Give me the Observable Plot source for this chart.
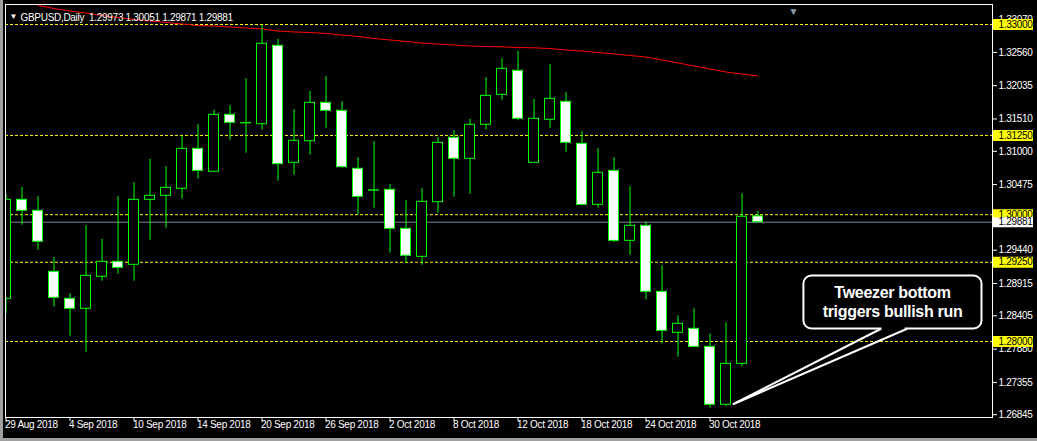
<!DOCTYPE html>
<html><head><meta charset="utf-8">
<script src="https://cdn.jsdelivr.net/npm/d3@7"></script>
<script src="https://cdn.jsdelivr.net/npm/@observablehq/plot@0.6"></script>
<style>
html,body{margin:0;padding:0;background:#000;}
#wrap{position:relative;width:1037px;height:441px;overflow:hidden;background:#000;}
#wrap svg{display:block;}
.edge-l{position:absolute;left:0;top:0;width:3px;height:441px;background:#a0a0a0;}
.edge-b{position:absolute;left:0;bottom:0;width:1037px;height:3px;background:#a0a0a0;}
</style></head>
<body><div id="wrap"><div class="edge-l"></div><div class="edge-b"></div></div>
<script>
// ---------------- data ----------------
const symbol = "GBPUSD", period = "Daily";
const dates = ["2018-08-29","2018-08-30","2018-08-31","2018-09-03","2018-09-04","2018-09-05","2018-09-06","2018-09-07",
  "2018-09-10","2018-09-11","2018-09-12","2018-09-13","2018-09-14","2018-09-17","2018-09-18","2018-09-19","2018-09-20","2018-09-21",
  "2018-09-24","2018-09-25","2018-09-26","2018-09-27","2018-09-28","2018-10-01","2018-10-02","2018-10-03","2018-10-04","2018-10-05",
  "2018-10-08","2018-10-09","2018-10-10","2018-10-11","2018-10-12","2018-10-15","2018-10-16","2018-10-17","2018-10-18","2018-10-19",
  "2018-10-22","2018-10-23","2018-10-24","2018-10-25","2018-10-26","2018-10-29","2018-10-30","2018-10-31","2018-11-01","2018-11-02"];
const open = [1.28674,1.30235,1.30062,1.29099,1.28674,1.28516,1.29021,1.29257,1.29210,1.30235,1.30298,1.30409,1.31039,1.30677,1.31576,1.31445,
  1.31427,1.32664,1.30819,1.31159,1.31765,1.31639,1.30724,1.30384,1.30393,1.29778,1.29336,1.30197,1.31213,1.30882,1.31418,1.31891,
  1.32270,1.30819,1.31497,1.31781,1.31118,1.30156,1.30692,1.29588,1.29825,1.28784,1.28137,1.28200,1.27916,1.27002,1.27648,1.29973];
const high = [1.30319,1.30429,1.30287,1.29325,1.28757,1.29830,1.29609,1.30287,1.30508,1.30871,1.30760,1.31238,1.31423,1.31648,1.31722,1.32144,
  1.32984,1.32763,1.31659,1.31943,1.32180,1.31785,1.30902,1.31155,1.30476,1.30224,1.30413,1.31218,1.31328,1.31502,1.32164,1.32464,
  1.32574,1.31817,1.32369,1.31927,1.31312,1.31044,1.30902,1.30445,1.29888,1.29194,1.28405,1.28516,1.28121,1.28295,1.30330,1.30051];
const low = [1.28437,1.29834,1.29440,1.28541,1.28084,1.27831,1.28951,1.29062,1.28951,1.29598,1.29787,1.30245,1.30560,1.30677,1.31175,1.30970,
  1.31333,1.30528,1.30623,1.30938,1.31364,1.30733,1.29998,1.30103,1.29393,1.29235,1.29203,1.30024,1.30276,1.30323,1.31333,1.31806,
  1.31481,1.30819,1.31364,1.30986,1.30140,1.30109,1.29557,1.29361,1.28658,1.27964,1.27752,1.27901,1.26954,1.26970,1.27601,1.29871];
const close = [1.30235,1.30062,1.29573,1.28689,1.28516,1.29036,1.29257,1.29162,1.30235,1.30298,1.30424,1.31039,1.30692,1.31576,1.31450,1.31441,
  1.32696,1.30797,1.31166,1.31765,1.31639,1.30749,1.30282,1.30380,1.29778,1.29352,1.30203,1.31134,1.30882,1.31418,1.31875,1.32301,
  1.31513,1.31513,1.31828,1.31134,1.30156,1.30661,1.29588,1.29825,1.28784,1.28169,1.28279,1.27916,1.27002,1.27648,1.29967,1.29881];
const ma = [null,null,1.33300,1.33252,1.33213,1.33181,1.33142,1.33110,1.33079,1.33055,1.33032,1.33008,1.32984,1.32976,1.32961,1.32945,
  1.32929,1.32897,1.32882,1.32874,1.32858,1.32834,1.32811,1.32779,1.32756,1.32732,1.32708,1.32692,1.32677,1.32661,1.32653,1.32648,
  1.32637,1.32632,1.32621,1.32598,1.32582,1.32558,1.32535,1.32511,1.32487,1.32440,1.32393,1.32345,1.32298,1.32251,1.32219,1.32188];
const levels = [1.33000,1.31250,1.30000,1.29250,1.28000];
const priceTicks = [1.33070,1.32560,1.32035,1.31510,1.31000,1.30475,1.29440,1.28915,1.28405,1.27880,1.27355,1.26845];
const dateTickIdx = [0,4,8,12,16,20,24,28,32,36,40,44];
const dateTickLabels = ["29 Aug 2018","4 Sep 2018","10 Sep 2018","14 Sep 2018","20 Sep 2018","26 Sep 2018",
  "2 Oct 2018","8 Oct 2018","12 Oct 2018","18 Oct 2018","24 Oct 2018","30 Oct 2018"];
// annotation, in bar-index / price units
const calloutText = "Tweezer bottom\ntriggers bullish run";
const calloutBox = {x1: 49.87, x2: 61.0, y1: 1.28197, y2: 1.29033, tx: 55.41, ty: 1.28634};
const calloutWedge = [{x: 54.66, y: 1.28197}, {x: 45.47, y: 1.27014}, {x: 56.28, y: 1.28197}];

// ---------------- layout ----------------
const W = 1037, H = 441, mL = 5, mR = 45, mT = 4, mB = 24;
const barPx = 16, firstBarPx = 5.5;           // bar spacing in px, first bar centre
const pxPerUnit = 6340, refPrice = 1.33, refPx = 24;
const xDomain = [(mL - firstBarPx) / barPx, (W - mR - firstBarPx) / barPx];
const yDomain = [refPrice - (H - mB - refPx) / pxPerUnit, refPrice + (refPx - mT) / pxPerUnit];
const pxToIdx = px => (px - firstBarPx) / barPx;
const labX1 = pxToIdx(993), labX2 = pxToIdx(1033);
const half = 5 / barPx;

const fmt = d3.format(".5f");
const candles = dates.map((d, i) => ({i, date: d, open: open[i], high: high[i], low: low[i], close: close[i]}));
const bulls = candles.filter(d => d.close >= d.open);
const bears = candles.filter(d => d.close < d.open);
const maData = ma.map((v, i) => ({i, v})).filter(d => d.v != null);
const last = candles[candles.length - 1];
const title = `${symbol},${period}\u00a0\u00a0${fmt(last.open)} ${fmt(last.high)} ${fmt(last.low)} ${fmt(last.close)}`;
const green = "#00ff00";
const font = "'Liberation Sans', Arial, sans-serif";

const chart = Plot.plot({
  width: W, height: H,
  marginLeft: mL, marginRight: mR, marginTop: mT, marginBottom: mB,
  style: {background: "black", color: "white", fontFamily: font, fontSize: "10px", letterSpacing: "-0.3px", overflow: "visible"},
  x: {domain: xDomain, ticks: dateTickIdx, tickFormat: () => "", tickSize: 4, label: null},
  y: {domain: yDomain, axis: "right", ticks: priceTicks, tickFormat: fmt, tickSize: 4, tickPadding: 2, label: null},
  marks: [
    Plot.ruleY(levels, {y: d => d, stroke: "#ffff00", strokeDasharray: "3,2"}),
    Plot.ruleY([last.close], {y: d => d, stroke: "#778899"}),
    Plot.line(maData, {x: "i", y: "v", stroke: "#ff0000", strokeWidth: 1, clip: true}),
    Plot.ruleX(candles, {x: "i", y1: "low", y2: "high", stroke: green, clip: true}),
    Plot.rect(bulls, {x1: d => d.i - half, x2: d => d.i + half, y1: "open", y2: "close", fill: "black", stroke: green, clip: true}),
    Plot.rect(bears, {x1: d => d.i - half, x2: d => d.i + half, y1: "open", y2: "close", fill: "white", stroke: green, clip: true}),
    // callout
    Plot.rect([calloutBox], {x1: "x1", x2: "x2", y1: "y1", y2: "y2", rx: 8, ry: 8, fill: "black", stroke: "white", strokeWidth: 2}),
    Plot.ruleY([calloutBox.y1], {y: d => d, x1: calloutWedge[0].x + 0.08, x2: calloutWedge[2].x - 0.08, stroke: "black", strokeWidth: 4}),
    Plot.line(calloutWedge, {x: "x", y: "y", stroke: "white", strokeWidth: 2}),
    Plot.text([calloutBox], {x: "tx", y: "ty", text: () => calloutText, fill: "white", fontSize: 16, fontWeight: "bold",
      fontFamily: font, lineHeight: 1.23, textAnchor: "middle", style: "letter-spacing:0"}),
    // price labels
    Plot.ruleY(levels, {y: d => d, x1: labX1, x2: labX2, stroke: "#ffff00", strokeWidth: 11}),
    Plot.text(levels, {y: d => d, text: d => fmt(d), frameAnchor: "right", dx: 6, textAnchor: "start", fill: "black"}),
    Plot.ruleY([last.close], {y: d => d, x1: labX1, x2: labX2, stroke: "white", strokeWidth: 10}),
    Plot.text([last.close], {y: d => d, text: d => fmt(d), frameAnchor: "right", dx: 6, textAnchor: "start", fill: "black"}),
    // date labels
    Plot.text(dateTickIdx, {x: d => d, text: (d, i) => dateTickLabels[i], frameAnchor: "bottom", dy: 10, dx: -1, textAnchor: "start", fill: "white"}),
    // title
    Plot.text([title], {text: d => d, frameAnchor: "top-left", dx: 15, dy: 9, textAnchor: "start", fill: "white"}),
    Plot.text(["\u25BC"], {text: d => d, frameAnchor: "top-left", dx: 4, dy: 9, textAnchor: "start", fontSize: 8, fill: "white"}),
    Plot.text(["\u25BC"], {text: d => d, frameAnchor: "top-left", dx: 783, dy: 3, textAnchor: "start", fontSize: 10, fill: "#8899aa"}),
    Plot.frame({stroke: "white"})
  ]
});
document.getElementById("wrap").prepend(chart);
</script>
</body></html>
